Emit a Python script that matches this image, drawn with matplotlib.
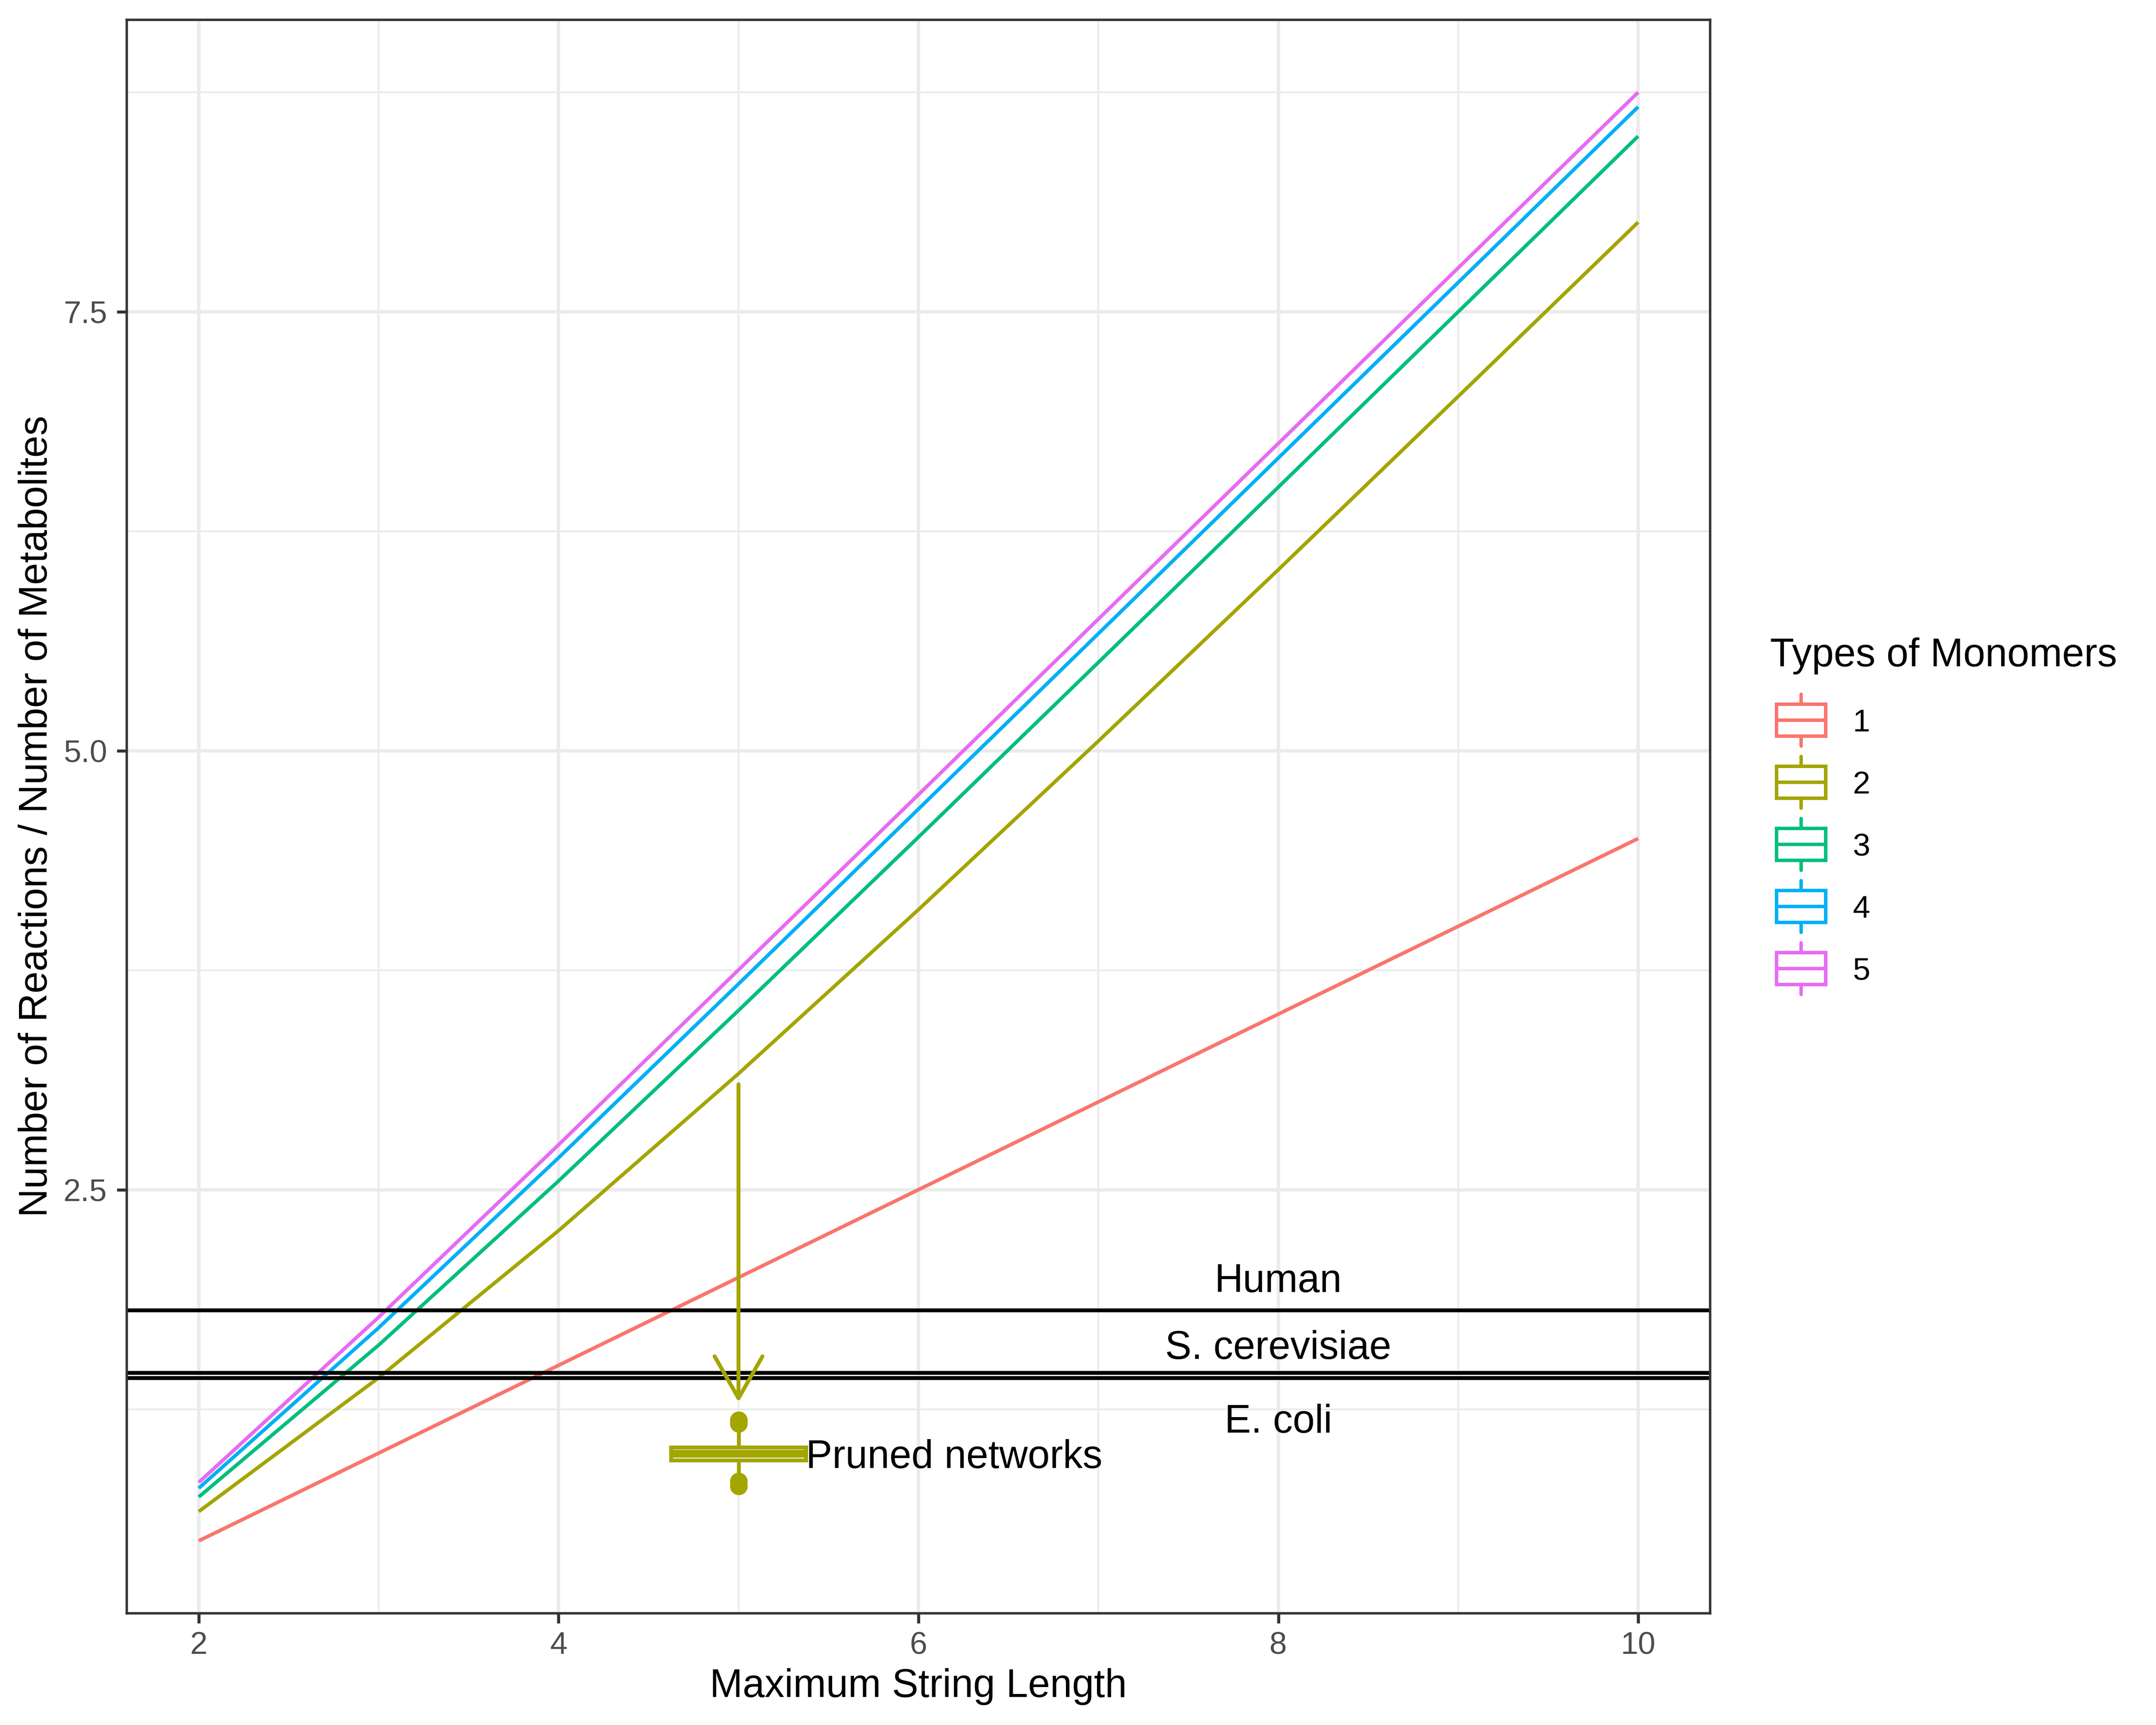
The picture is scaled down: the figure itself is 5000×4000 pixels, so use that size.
import matplotlib
matplotlib.use("Agg")
import matplotlib.pyplot as plt
from matplotlib.patches import Rectangle
from matplotlib.lines import Line2D

plt.rcParams['font.family'] = ['Liberation Sans', 'DejaVu Sans']

# ── data ──────────────────────────────────────────────────────────────────
string_length = [2, 3, 4, 5, 6, 7, 8, 9, 10]
monomer_types = ["1", "2", "3", "4", "5"]
ratio_k1 = [0.500, 1.000, 1.500, 2.000, 2.500, 3.000, 3.500, 4.000, 4.500]
ratio_k2 = [0.667, 1.429, 2.267, 3.161, 4.095, 5.055, 6.031, 7.018, 8.010]
ratio_k3 = [0.750, 1.615, 2.550, 3.521, 4.508, 5.503, 6.501, 7.500, 8.500]
ratio_k4 = [0.800, 1.714, 2.682, 3.672, 4.668, 5.667, 6.667, 7.667, 8.667]
ratio_k5 = [0.833, 1.774, 2.756, 3.752, 4.750, 5.750, 6.750, 7.750, 8.750]
ratios = [ratio_k1, ratio_k2, ratio_k3, ratio_k4, ratio_k5]
colors = ["#F8766D", "#A3A500", "#00BF7D", "#00B0F6", "#E76BF3"]

ref_names = ["Human", "S. cerevisiae", "E. coli"]
ref_values = [1.815, 1.459, 1.429]
ref_label_y = [2.00, 1.62, 1.20]
ref_label_x = 8

# pruned networks boxplot (max string length 5, two monomer types)
pruned_x = 5
pruned_stats = dict(med=0.997, q1=0.960, q3=1.034, whislo=0.886, whishi=1.122,
                    fliers=[0.812, 0.838, 1.169, 1.189])
arrow_from = (5, 3.10)
arrow_to = (5, 1.29)
pruned_label = "Pruned networks"
pruned_label_pos = (5.375, 0.997)

x_ticks = [2, 4, 6, 8, 10]
y_ticks = [2.5, 5.0, 7.5]
y_tick_labels = ["2.5", "5.0", "7.5"]

# ── figure ────────────────────────────────────────────────────────────────
W, H = 5000, 4000
fig = plt.figure(figsize=(10, 8), dpi=500, facecolor="white")
ax = fig.add_axes([294 / W, 1 - 3741 / H, 3672 / W, 3695 / H])

grid_col = "#EBEBEB"
dark = "#333333"
title_size = 13.2
ax.set_xlim(1.6, 10.4)
ax.set_ylim(0.0875, 9.1625)
ax.set_xticks(x_ticks)
ax.set_xticks([3, 5, 7, 9], minor=True)
ax.set_yticks(y_ticks)
ax.set_yticklabels(y_tick_labels)
ax.set_yticks([1.25, 3.75, 6.25, 8.75], minor=True)
ax.grid(which="major", color=grid_col, linewidth=1.15)
ax.grid(which="minor", color=grid_col, linewidth=0.6)
ax.set_axisbelow(True)
ax.tick_params(which="major", length=3.3, width=1.0, color=dark,
               labelsize=10.5, labelcolor="#4D4D4D")
ax.tick_params(axis="y", pad=3.3)
ax.tick_params(axis="x", pad=2.7)
ax.tick_params(which="minor", length=0)
for spine in ax.spines.values():
    spine.set_edgecolor(dark)
    spine.set_linewidth(0.8)

for vals, col in zip(ratios, colors):
    ax.plot(string_length, vals, color=col, linewidth=1.2, solid_capstyle="butt")

for val in ref_values:
    ax.axhline(val, color="black", linewidth=1.3)
for name, ly in zip(ref_names, ref_label_y):
    ax.text(ref_label_x, ly, name, ha="center", va="center_baseline", fontsize=title_size)

olive = colors[1]
ax.bxp([pruned_stats], positions=[pruned_x], widths=[0.75], patch_artist=True,
       showcaps=False, manage_ticks=False,
       boxprops=dict(facecolor="white", edgecolor=olive, linewidth=1.3),
       medianprops=dict(color=olive, linewidth=2.6, solid_capstyle="butt"),
       whiskerprops=dict(color=olive, linewidth=1.3),
       flierprops=dict(marker="o", markersize=5.4, markerfacecolor=olive,
                       markeredgecolor=olive, markeredgewidth=0.5))

ax.annotate("", xy=arrow_to, xytext=arrow_from,
            arrowprops=dict(arrowstyle="->,head_length=0.7,head_width=0.4",
                            color=olive, linewidth=1.3, shrinkA=0, shrinkB=0,
                            mutation_scale=20))
ax.text(pruned_label_pos[0], pruned_label_pos[1], pruned_label,
        ha="left", va="center_baseline", fontsize=title_size)

# axis titles
fig.text(2130 / W, 1 - 3935 / H, "Maximum String Length", ha="center",
         va="baseline", fontsize=title_size)
fig.text(109 / W, 1 - 1893 / H, "Number of Reactions / Number of Metabolites",
         ha="center", va="baseline", rotation=90, rotation_mode="anchor",
         fontsize=title_size)

# ── legend (boxplot keys) ─────────────────────────────────────────────────
lax = fig.add_axes([0, 0, 1, 1], facecolor="none")
lax.set_xlim(0, W)
lax.set_ylim(H, 0)
lax.axis("off")
lax.text(4105, 1545, "Types of Monomers", ha="left", va="baseline", fontsize=title_size)
key_left, key_w, key_cx = 4120, 114, 4177
for i, (lab, col) in enumerate(zip(monomer_types, colors)):
    cy = 1670 + i * 144
    lax.add_patch(Rectangle((key_left, cy - 37), key_w, 74, facecolor="white",
                            edgecolor=col, linewidth=1.15))
    lax.add_line(Line2D([key_left, key_left + key_w], [cy, cy], color=col, linewidth=1.15))
    lax.add_line(Line2D([key_cx, key_cx], [cy - 60, cy - 37], color=col, linewidth=1.15,
                        solid_capstyle="round"))
    lax.add_line(Line2D([key_cx, key_cx], [cy + 37, cy + 60], color=col, linewidth=1.15,
                        solid_capstyle="round"))
    lax.text(4296, cy + 26, lab, ha="left", va="baseline", fontsize=10.5)

fig.savefig("out.png", dpi=500, facecolor="white")
